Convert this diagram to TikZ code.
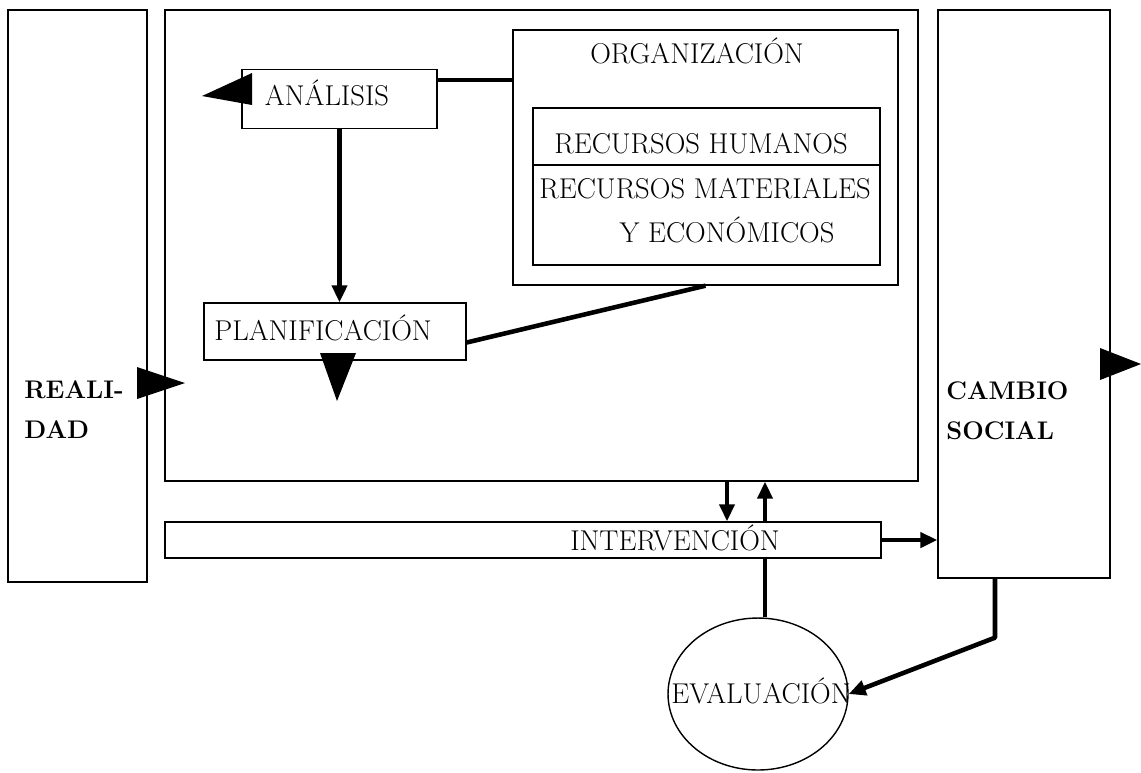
\documentclass[tikz,border=0pt]{standalone}
\usetikzlibrary{arrows.meta,shapes.geometric}
\begin{document}
\begin{tikzpicture}[x=0.02cm,y=-0.02cm,
    box/.style={draw,line width=0.8pt,inner sep=0pt},
    txt/.style={font=\fontsize{16.3}{19}\selectfont,anchor=base,inner sep=0pt},
    btxt/.style={font=\fontsize{14.5}{22.7}\selectfont\bfseries,align=left,anchor=west,inner sep=0pt},
    conn/.style={line width=2.6pt},
    arr/.style={conn,-{Triangle[length=0.34cm,width=0.3cm]}}]
    \fill[white](0,0)rectangle(1141,772);
    \useasboundingbox(0,0)rectangle(1141,772);
    % cajas
    \node[box,minimum width=2.78cm,minimum height=11.44cm](real)at(77.5,296){};
    \node[box,minimum width=15.06cm,minimum height=9.42cm](main)at(541.5,245.5){};
    \node[box,minimum width=7.7cm,minimum height=5.1cm](org)at(705.5,157.5){};
    \node[box,minimum width=6.94cm,minimum height=1.14cm](rhum)at(706.5,136.5){};
    \node[box,minimum width=6.94cm,minimum height=2.0cm](rmat)at(706.5,215){};
    \node[box,minimum width=3.9cm,minimum height=1.18cm](anal)at(339.5,99){};
    \node[box,minimum width=5.24cm,minimum height=1.14cm](plan)at(335,331.5){};
    \node[box,minimum width=14.32cm,minimum height=0.72cm](interv)at(523,540){};
    \node[box,minimum width=3.44cm,minimum height=11.36cm](cam)at(1024,294){};
    \node[box,ellipse,minimum width=3.6cm,minimum height=3.04cm](eval)at(758,694){};
    % textos
    \node[btxt](realtxt)at(24,410){REALI-\\DAD};
    \node[btxt](camtxt)at(946,411){CAMBIO\\SOCIAL};
    \node[txt](orgtxt)at(697,63){ORGANIZACIÓN};
    \node[txt](rhumtxt)at(701,153){RECURSOS HUMANOS};
    \node[txt](rmattxt)at(705,198){RECURSOS MATERIALES};
    \node[txt](rectxt)at(727,242){Y ECONÓMICOS};
    \node[txt](analtxt)at(327,105){ANÁLISIS};
    \node[txt](plantxt)at(323,340){PLANIFICACIÓN};
    \node[txt](intervtxt)at(675,550){INTERVENCIÓN};
    \node[txt](evaltxt)at(761,703){EVALUACIÓN};
    % puntas grandes
    \fill(202,96)--(252,73)--(252,105)--cycle;
    \fill(137,367)--(185,383)--(137,399)--cycle;
    \fill(320,353)--(356,353)--(337,401)--cycle;
    \fill(1100,348)--(1141,364)--(1100,380)--cycle;
    % conectores
    \coordinate(a1)at([yshift=0.38cm]anal.east);
    \draw[conn](a1)--(a1-|org.west);
    \draw[arr](anal.south)--(anal.south|-plan.north);
    \draw[conn]([yshift=-0.22cm]plan.east)--(org.south);
    \coordinate(d1)at(727,0);
    \coordinate(u1)at(765,0);
    \draw[arr,line width=2.2pt](main.south-|d1)--(interv.north-|d1);
    \draw[arr,line width=2.2pt](interv.north-|u1)--(main.south-|u1);
    \draw[conn](eval.north-|u1)--(interv.south-|u1);
    \draw[arr](interv.east)--(interv.east-|cam.west);
    \coordinate(c1)at(995,0);
    \draw[arr,line join=round](cam.south-|c1)--++(0,59)--(eval.east);
\end{tikzpicture}
\end{document}
